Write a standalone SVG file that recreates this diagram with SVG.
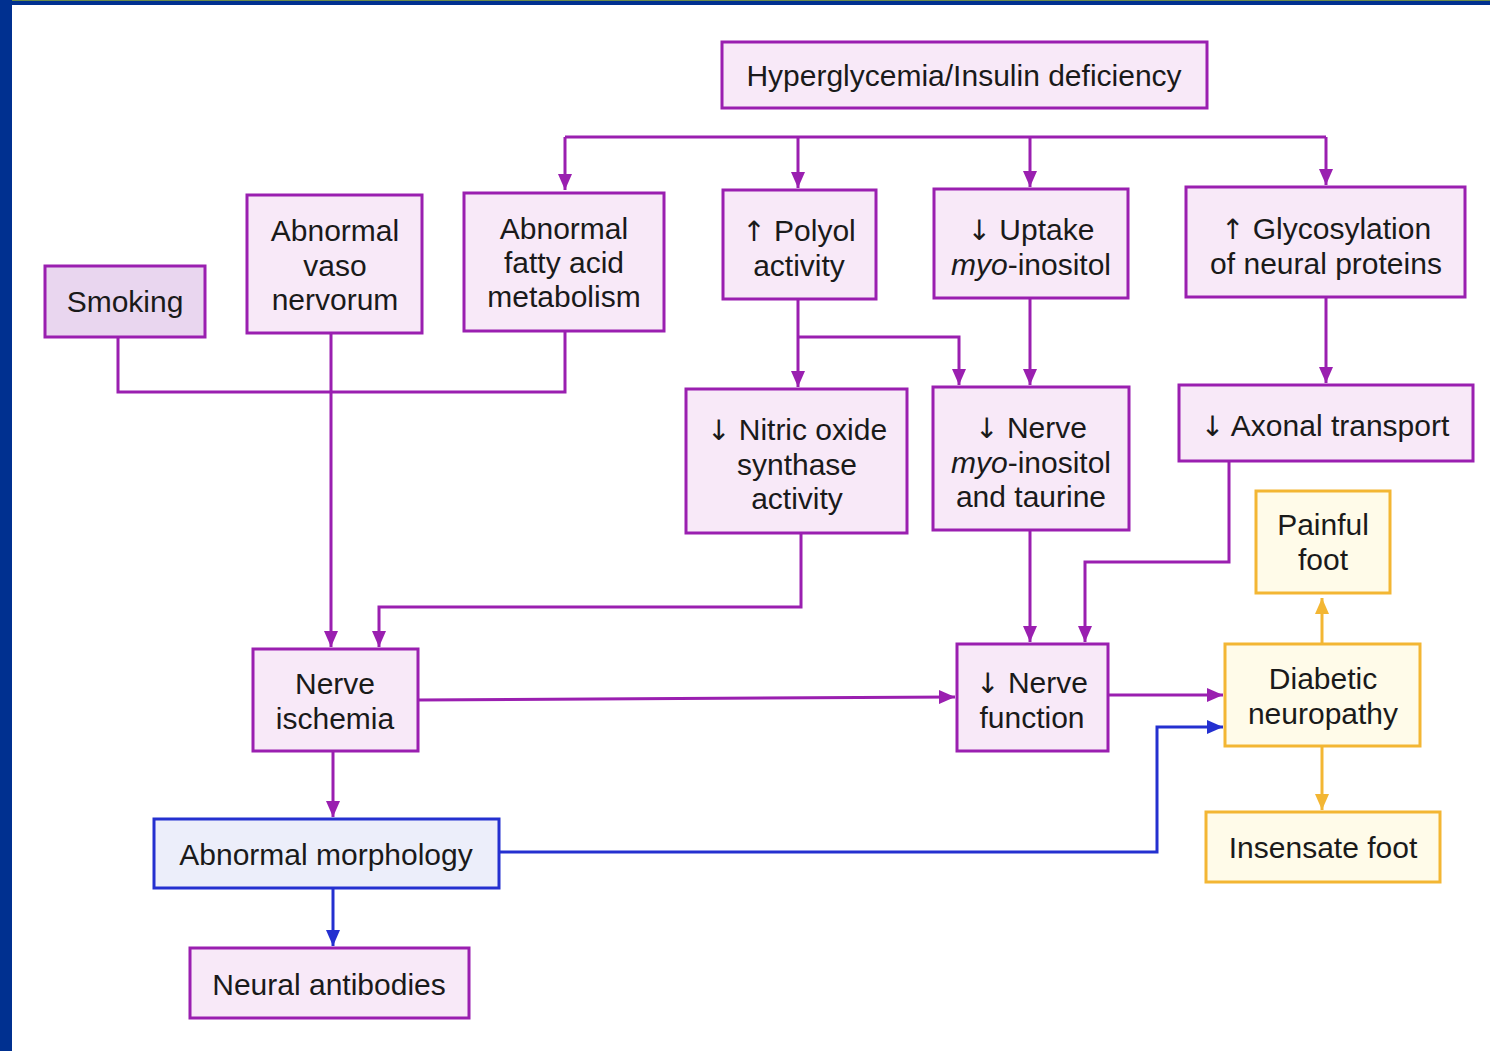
<svg xmlns="http://www.w3.org/2000/svg" width="1490" height="1051" viewBox="0 0 1490 1051">
<style>
text{font-family:"Liberation Sans",Arial,sans-serif;font-size:30px;fill:#1a1a1a;text-anchor:middle}
.ar{font-family:"DejaVu Sans",sans-serif;font-size:28px}
.p{fill:#f8e9f8;stroke:#9a1fb0;stroke-width:3}
.s{fill:#e9d6ef;stroke:#9a1fb0;stroke-width:3}
.b{fill:#eceefa;stroke:#2430d0;stroke-width:3}
.o{fill:#fffbe9;stroke:#f3b633;stroke-width:3}
.cp{fill:none;stroke:#9a1fb0;stroke-width:3}
.cb{fill:none;stroke:#2430d0;stroke-width:3}
.co{fill:none;stroke:#f3b633;stroke-width:3}
</style>
<defs>
<marker id="ap" markerUnits="userSpaceOnUse" markerWidth="17" markerHeight="16" refX="16" refY="8" orient="auto"><path d="M0,1 L16,8 L0,15 Z" fill="#9a1fb0"/></marker>
<marker id="ab" markerUnits="userSpaceOnUse" markerWidth="17" markerHeight="16" refX="16" refY="8" orient="auto"><path d="M0,1 L16,8 L0,15 Z" fill="#2430d0"/></marker>
<marker id="ao" markerUnits="userSpaceOnUse" markerWidth="17" markerHeight="16" refX="16" refY="8" orient="auto"><path d="M0,1 L16,8 L0,15 Z" fill="#f3b633"/></marker>
</defs>
<rect x="0" y="0" width="1490" height="1051" fill="#ffffff"/>
<rect x="0" y="0" width="1490" height="5" fill="#003090"/>
<rect x="0" y="0" width="1490" height="1" fill="#6a8a4a"/>
<rect x="0" y="0" width="12" height="1051" fill="#003090"/>

<g id="connectors">
<path class="cp" d="M565,137 H1326"/>
<path class="cp" d="M565,137 V190" marker-end="url(#ap)"/>
<path class="cp" d="M798,137 V188" marker-end="url(#ap)"/>
<path class="cp" d="M1030,137 V187" marker-end="url(#ap)"/>
<path class="cp" d="M1326,137 V185" marker-end="url(#ap)"/>
<path class="cp" d="M118,337 V392 H565 V331"/>
<path class="cp" d="M331,333 V647" marker-end="url(#ap)"/>
<path class="cp" d="M798,299 V387" marker-end="url(#ap)"/>
<path class="cp" d="M798,337 H959 V385" marker-end="url(#ap)"/>
<path class="cp" d="M1030,298 V385" marker-end="url(#ap)"/>
<path class="cp" d="M1326,297 V383" marker-end="url(#ap)"/>
<path class="cp" d="M801,533 V607 H379 V647" marker-end="url(#ap)"/>
<path class="cp" d="M1030,530 V642" marker-end="url(#ap)"/>
<path class="cp" d="M1229,461 V562 H1085 V642" marker-end="url(#ap)"/>
<path class="cp" d="M418,700 L955,697" marker-end="url(#ap)"/>
<path class="cp" d="M1108,695 H1223" marker-end="url(#ap)"/>
<path class="cp" d="M333,751 V817" marker-end="url(#ap)"/>
<path class="cb" d="M499,852 H1157 V727 H1223" marker-end="url(#ab)"/>
<path class="cb" d="M333,888 V946" marker-end="url(#ab)"/>
<path class="co" d="M1322,644 V598" marker-end="url(#ao)"/>
<path class="co" d="M1322,746 V810" marker-end="url(#ao)"/>
</g>

<g id="hyperglycemia"><rect class="p" x="722" y="42" width="485" height="66"/><text x="964" y="86">Hyperglycemia/Insulin deficiency</text></g>
<g id="smoking"><rect class="s" x="45" y="266" width="160" height="71"/><text x="125" y="312">Smoking</text></g>
<g id="vaso"><rect class="p" x="247" y="195" width="175" height="138"/><text x="335" y="241">Abnormal</text><text x="335" y="276">vaso</text><text x="335" y="310">nervorum</text></g>
<g id="fatty"><rect class="p" x="464" y="193" width="200" height="138"/><text x="564" y="239">Abnormal</text><text x="564" y="273">fatty acid</text><text x="564" y="307">metabolism</text></g>
<g id="polyol"><rect class="p" x="723" y="190" width="153" height="109"/><text x="799" y="241"><tspan class="ar">↑</tspan> Polyol</text><text x="799" y="276">activity</text></g>
<g id="uptake"><rect class="p" x="934" y="189" width="194" height="109"/><text x="1031" y="240"><tspan class="ar">↓</tspan> Uptake</text><text x="1031" y="275"><tspan font-style="italic">myo</tspan>-inositol</text></g>
<g id="glyco"><rect class="p" x="1186" y="187" width="279" height="110"/><text x="1326" y="239"><tspan class="ar">↑</tspan> Glycosylation</text><text x="1326" y="274">of neural proteins</text></g>
<g id="nitric"><rect class="p" x="686" y="389" width="221" height="144"/><text x="797" y="440"><tspan class="ar">↓</tspan> Nitric oxide</text><text x="797" y="475">synthase</text><text x="797" y="509">activity</text></g>
<g id="nervemyo"><rect class="p" x="933" y="387" width="196" height="143"/><text x="1031" y="438"><tspan class="ar">↓</tspan> Nerve</text><text x="1031" y="473"><tspan font-style="italic">myo</tspan>-inositol</text><text x="1031" y="507">and taurine</text></g>
<g id="axonal"><rect class="p" x="1179" y="385" width="294" height="76"/><text x="1325" y="436"><tspan class="ar">↓</tspan> Axonal transport</text></g>
<g id="painful"><rect class="o" x="1256" y="491" width="134" height="102"/><text x="1323" y="535">Painful</text><text x="1323" y="570">foot</text></g>
<g id="ischemia"><rect class="p" x="253" y="649" width="165" height="102"/><text x="335" y="694">Nerve</text><text x="335" y="729">ischemia</text></g>
<g id="function"><rect class="p" x="957" y="644" width="151" height="107"/><text x="1032" y="693"><tspan class="ar">↓</tspan> Nerve</text><text x="1032" y="728">function</text></g>
<g id="diabetic"><rect class="o" x="1225" y="644" width="195" height="102"/><text x="1323" y="689">Diabetic</text><text x="1323" y="724">neuropathy</text></g>
<g id="morphology"><rect class="b" x="154" y="819" width="345" height="69"/><text x="326" y="865">Abnormal morphology</text></g>
<g id="insensate"><rect class="o" x="1206" y="812" width="234" height="70"/><text x="1323" y="858">Insensate foot</text></g>
<g id="antibodies"><rect class="p" x="190" y="948" width="279" height="70"/><text x="329" y="995">Neural antibodies</text></g>
</svg>
